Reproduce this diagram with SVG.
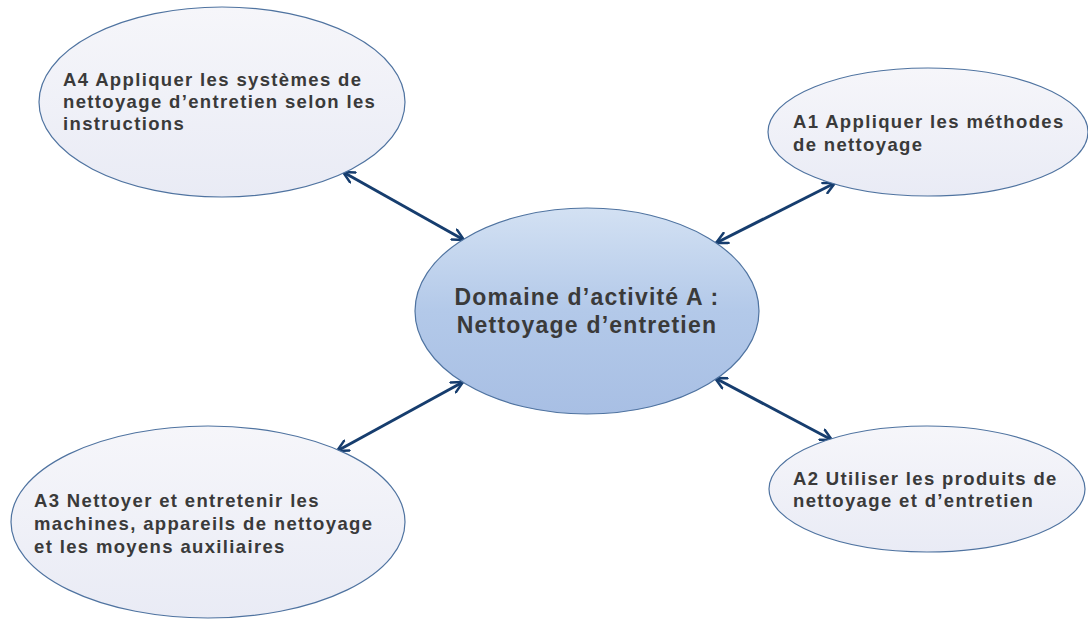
<svg xmlns="http://www.w3.org/2000/svg" width="1088" height="621" viewBox="0 0 1088 621">
<defs>
<linearGradient id="gOuter" x1="0" y1="0" x2="0" y2="1">
<stop offset="0" stop-color="#f6f6fa"/>
<stop offset="1" stop-color="#e9ebf5"/>
</linearGradient>
<linearGradient id="gCenter" x1="0" y1="0" x2="0" y2="1">
<stop offset="0" stop-color="#d3e1f3"/>
<stop offset="0.5" stop-color="#b3c9e9"/>
<stop offset="1" stop-color="#a8bfe4"/>
</linearGradient>
<marker id="chev" viewBox="0 0 12 12" refX="11" refY="6" markerWidth="4.5" markerHeight="4.5" orient="auto-start-reverse" markerUnits="strokeWidth">
<path d="M1,1 L11,6 L1,11" fill="none" stroke="#163d6e" stroke-width="2.2" stroke-linecap="round" stroke-linejoin="round"/>
</marker>
</defs>
<style>
.outer{fill:url(#gOuter);stroke:#4f73a0;stroke-width:1.2}
.center{fill:url(#gCenter);stroke:#4f73a0;stroke-width:1.2}
.t{font-family:"Liberation Sans",Arial,sans-serif;font-weight:bold;font-size:18.5px;letter-spacing:1.35px;fill:#3a3a3a}
.tc{font-family:"Liberation Sans",Arial,sans-serif;font-weight:bold;font-size:23px;letter-spacing:1.2px;fill:#3a3a3a;text-anchor:middle}
.c{fill:none;stroke:#163d6e;stroke-width:3;marker-start:url(#chev);marker-end:url(#chev)}
</style>
<rect width="1088" height="621" fill="#ffffff"/>
<g id="connectors">
<line class="c" x1="343" y1="172" x2="464" y2="240"/>
<line class="c" x1="716" y1="243" x2="835" y2="183"/>
<line class="c" x1="463" y1="382" x2="337" y2="451"/>
<line class="c" x1="715" y1="378" x2="832" y2="440"/>
</g>
<g id="center">
<ellipse class="center" cx="587" cy="311" rx="172" ry="103"/>
<text class="tc" x="587" y="305">Domaine d’activité A :</text>
<text class="tc" x="587" y="333">Nettoyage d’entretien</text>
</g>
<g id="a4">
<ellipse class="outer" cx="222" cy="102" rx="183" ry="95"/>
<text class="t" x="63" y="86">A4 Appliquer les systèmes de</text>
<text class="t" x="63" y="108">nettoyage d’entretien selon les</text>
<text class="t" x="63" y="130">instructions</text>
</g>
<g id="a1">
<ellipse class="outer" cx="928" cy="132" rx="160" ry="64"/>
<text class="t" x="793" y="128">A1 Appliquer les méthodes</text>
<text class="t" x="793" y="151">de nettoyage</text>
</g>
<g id="a3">
<ellipse class="outer" cx="208" cy="522" rx="197" ry="96"/>
<text class="t" x="34" y="507">A3 Nettoyer et entretenir les</text>
<text class="t" x="34" y="530">machines, appareils de nettoyage</text>
<text class="t" x="34" y="553">et les moyens auxiliaires</text>
</g>
<g id="a2">
<ellipse class="outer" cx="927" cy="489" rx="158" ry="63"/>
<text class="t" x="793" y="485">A2 Utiliser les produits de</text>
<text class="t" x="793" y="507">nettoyage et d’entretien</text>
</g>
</svg>
